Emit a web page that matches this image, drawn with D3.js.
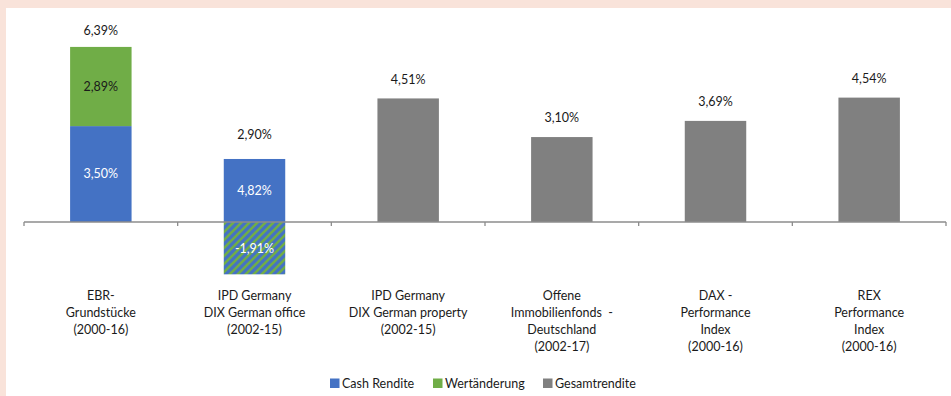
<!DOCTYPE html>
<html><head><meta charset="utf-8">
<script src="https://cdn.jsdelivr.net/npm/d3@7"></script>
<style>
html,body{margin:0;padding:0;background:#f9e3da;}
svg{display:block;}
</style></head>
<body>
<svg id="chart" width="951" height="396"></svg>
<script>
// ---- data ----
const categories = [
  ["EBR-", "Grundstücke", "(2000-16)"],
  ["IPD Germany", "DIX German office", "(2002-15)"],
  ["IPD Germany", "DIX German property", "(2002-15)"],
  ["Offene", "Immobilienfonds  -", "Deutschland", "(2002-17)"],
  ["DAX -", "Performance", "Index", "(2000-16)"],
  ["REX", "Performance", "Index", "(2000-16)"]
];
const cashValues   = [3.50, 2.30, 0, 0, 0, 0];
const cashLabels   = ["3,50%", "4,82%", "", "", "", ""];
const wertValues   = [2.89, -1.91, 0, 0, 0, 0];
const wertLabels   = ["2,89%", "-1,91%", "", "", "", ""];
const gesamtValues = [0, 0, 4.51, 3.10, 3.69, 4.54];
const totalLabels  = ["6,39%", "2,90%", "4,51%", "3,10%", "3,69%", "4,54%"];
const legendItems  = ["Cash Rendite", "Wertänderung", "Gesamtrendite"];

// ---- styles ----
const blue = "#4472c4", green = "#70ad47", gray = "#808080";
const font = "Lato, 'Open Sans', sans-serif";

const svg = d3.select("#chart");
svg.append("rect").attr("x", 6).attr("y", 8).attr("width", 945).attr("height", 388).attr("fill", "#ffffff");

const defs = svg.append("defs");
const pat = defs.append("pattern").attr("id", "hatch").attr("patternUnits", "userSpaceOnUse")
  .attr("width", 8).attr("height", 8);
pat.append("rect").attr("width", 8).attr("height", 8).attr("fill", blue);
pat.append("path").attr("d", "M-2,2 L2,-2 M0,8 L8,0 M6,10 L10,6")
  .attr("stroke", green).attr("stroke-width", 2.6);

const x = d3.scaleBand().domain(d3.range(categories.length)).range([24, 946]).paddingInner(0.6).paddingOuter(0.3);
const y = d3.scaleLinear().domain([-2, 7]).range([276.8, 30.2]);

// bars
const g = svg.append("g");
categories.forEach((c, i) => {
  const bx = x(i), bw = x.bandwidth();
  if (cashValues[i]) {
    g.append("rect").attr("x", bx).attr("y", y(cashValues[i])).attr("width", bw)
      .attr("height", y(0) - y(cashValues[i])).attr("fill", blue);
  }
  if (wertValues[i] > 0) {
    const base = cashValues[i];
    g.append("rect").attr("x", bx).attr("y", y(base + wertValues[i])).attr("width", bw)
      .attr("height", y(base) - y(base + wertValues[i])).attr("fill", green);
  } else if (wertValues[i] < 0) {
    g.append("rect").attr("x", bx).attr("y", y(0)).attr("width", bw)
      .attr("height", y(wertValues[i]) - y(0)).attr("fill", "url(#hatch)");
  }
  if (gesamtValues[i]) {
    g.append("rect").attr("x", bx).attr("y", y(gesamtValues[i])).attr("width", bw)
      .attr("height", y(0) - y(gesamtValues[i])).attr("fill", gray);
  }
});

// axis
const axis = svg.append("g").attr("transform", `translate(0,${y(0)})`);
axis.append("line").attr("x1", 24).attr("x2", 946).attr("stroke", "#8c8c8c").attr("stroke-width", 1.3);
const step = x.step();
d3.range(categories.length + 1).forEach(k => {
  const tx = 24 + k * (922 / categories.length);
  axis.append("line").attr("x1", tx).attr("x2", tx).attr("y1", 0).attr("y2", 4)
    .attr("stroke", "#8c8c8c").attr("stroke-width", 1.3);
});

// value labels
const lab = svg.append("g").attr("font-family", font).attr("font-size", 12.5).attr("text-anchor", "middle");
categories.forEach((c, i) => {
  const cx = x(i) + x.bandwidth() / 2;
  if (cashLabels[i]) {
    lab.append("text").attr("x", cx).attr("y", (y(0) + y(cashValues[i])) / 2).attr("dy", "0.35em")
      .attr("fill", "#ffffff").text(cashLabels[i]);
  }
  if (wertLabels[i]) {
    const base = wertValues[i] > 0 ? cashValues[i] : 0;
    lab.append("text").attr("x", cx).attr("y", (y(base) + y(base + wertValues[i])) / 2).attr("dy", "0.35em")
      .attr("fill", wertValues[i] > 0 ? "#1a1a1a" : "#ffffff").text(wertLabels[i]);
  }
  const top = Math.max(cashValues[i] + Math.max(wertValues[i], 0), gesamtValues[i]);
  lab.append("text").attr("x", cx).attr("y", y(top) - 19 + (i === 0 ? 3 : 0) - (i === 1 ? 5 : 0)).attr("dy", "0.35em")
    .attr("fill", "#1a1a1a").text(totalLabels[i]);
});

// category labels
const cl = svg.append("g").attr("font-family", font).attr("font-size", 12.5).attr("text-anchor", "middle").attr("fill", "#1a1a1a");
categories.forEach((lines, i) => {
  const cx = x(i) + x.bandwidth() / 2;
  lines.forEach((t, j) => {
    cl.append("text").attr("x", cx).attr("y", 296 + j * 16.8).attr("dy", "0.35em").text(t).attr("xml:space", "preserve");
  });
});

// legend
const lg = svg.append("g").attr("font-family", font).attr("font-size", 12.5).attr("fill", "#1a1a1a");
const legColors = [blue, green, gray];
const legX = [330, 433, 543];
legendItems.forEach((t, i) => {
  lg.append("rect").attr("x", legX[i]).attr("y", 378.5).attr("width", 9.5).attr("height", 9.5).attr("fill", legColors[i]);
  lg.append("text").attr("x", legX[i] + 12).attr("y", 383.5).attr("dy", "0.35em").text(t);
});
</script>
</body></html>
